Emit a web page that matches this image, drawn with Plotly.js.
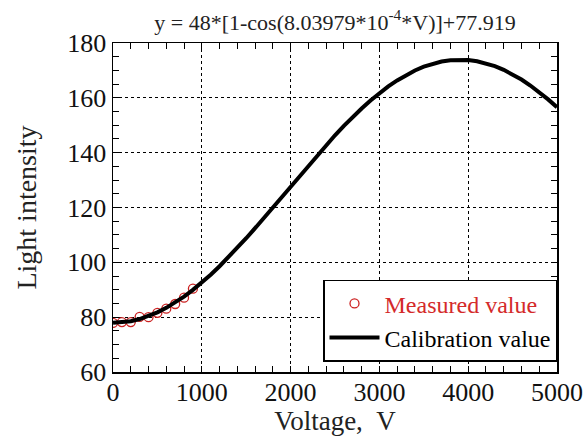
<!DOCTYPE html>
<html>
<head>
<meta charset="utf-8">
<script src="https://cdn.plot.ly/plotly-3.0.1.min.js"></script>
<style>html,body{margin:0;padding:0;background:#fff;}#chart{width:587px;height:436px;}</style>
</head>
<body>
<div id="chart"></div>
<script>
// Measured points
const measuredV = [0, 100, 200, 300, 400, 500, 600, 700, 800, 900];
const measuredI = [77.9, 78.2, 78.2, 80.1, 80.0, 81.6, 83.1, 84.8, 87.1, 90.4];

// Calibration curve (read every 100 V)
const calibV = [0,100,200,300,400,500,600,700,800,900,1000,1100,1200,1300,1400,1500,1600,1700,1800,1900,2000,2100,2200,2300,2400,2500,2600,2700,2800,2900,3000,3100,3200,3300,3400,3500,3600,3700,3800,3900,4000,4100,4200,4300,4400,4500,4600,4700,4800,4900,5000];
const calibI = [77.92,78.07,78.54,79.31,80.38,81.75,83.40,85.32,87.51,89.95,92.61,95.50,98.58,101.83,105.25,108.79,112.45,116.19,120.00,123.84,127.70,131.55,135.36,139.11,142.77,146.33,149.75,153.02,156.11,159.01,161.70,164.15,166.36,168.31,169.98,171.36,172.46,173.25,173.74,173.92,173.79,173.35,172.60,171.55,170.21,168.58,166.67,164.50,162.08,159.43,156.57];

const titleText = 'y = 48*[1-cos(8.03979*10<sup>-4</sup>*V)]+77.919';
const xTitle = 'Voltage,\u00a0\u00a0V';
const yTitle = 'Light intensity';
const measuredName = '<span style="color:#d42a2a">Measured value</span>';
const calibName = 'Calibration value';

const serif = 'Liberation Serif';

const traces = [
  {
    x: measuredV, y: measuredI, type: 'scatter', mode: 'markers', name: measuredName,
    marker: {symbol: 'circle-open', size: 9, color: '#cc2222', line: {width: 1.3, color: '#cc2222'}}
  },
  {
    x: calibV, y: calibI, type: 'scatter', mode: 'lines', name: calibName,
    line: {color: '#000', width: 4}
  }
];

function axisBase() {
  return {
    showline: true, linecolor: '#000', linewidth: 1.5, mirror: 'allticks',
    ticks: 'inside', ticklen: 6, tickcolor: '#000', tickwidth: 1,
    showgrid: true, gridcolor: '#000', gridwidth: 1, griddash: 'dot',
    zeroline: false,
    tickfont: {family: serif, size: 26, color: '#111'}
  };
}

const layout = {
  width: 587, height: 436,
  margin: {l: 113, r: 30, t: 43, b: 64},
  paper_bgcolor: '#fff', plot_bgcolor: '#fff',
  font: {family: serif, size: 21, color: '#111'},
  title: {text: titleText, font: {family: serif, size: 22, color: '#222'}, xref: 'paper', x: 0.5, xanchor: 'center', y: 0.95, yanchor: 'middle'},
  xaxis: Object.assign(axisBase(), {
    range: [0, 5000], tickvals: [0, 1000, 2000, 3000, 4000, 5000],
    ticklabelstandoff: -4,
    minor: {dtick: 200, ticks: 'inside', ticklen: 6, tickcolor: '#000', showgrid: false},
    title: {text: xTitle, font: {family: serif, size: 27, color: '#222'}, standoff: 6}
  }),
  yaxis: Object.assign(axisBase(), {
    range: [60, 180], tickvals: [60, 80, 100, 120, 140, 160, 180],
    minor: {dtick: 5, ticks: 'inside', ticklen: 6, tickcolor: '#000', showgrid: false},
    title: {text: yTitle, font: {family: serif, size: 28, color: '#222'}, standoff: 22}
  }),
  showlegend: true,
  legend: {
    x: 1, xanchor: 'right', y: 0.031, yanchor: 'bottom',
    bgcolor: '#fff', bordercolor: '#000', borderwidth: 1.5,
    font: {family: serif, size: 24, color: '#000'},
    traceorder: 'normal', itemwidth: 50, tracegroupgap: 0
  }
};

Plotly.newPlot('chart', traces, layout, {displayModeBar: false, staticPlot: true});
</script>
</body>
</html>
